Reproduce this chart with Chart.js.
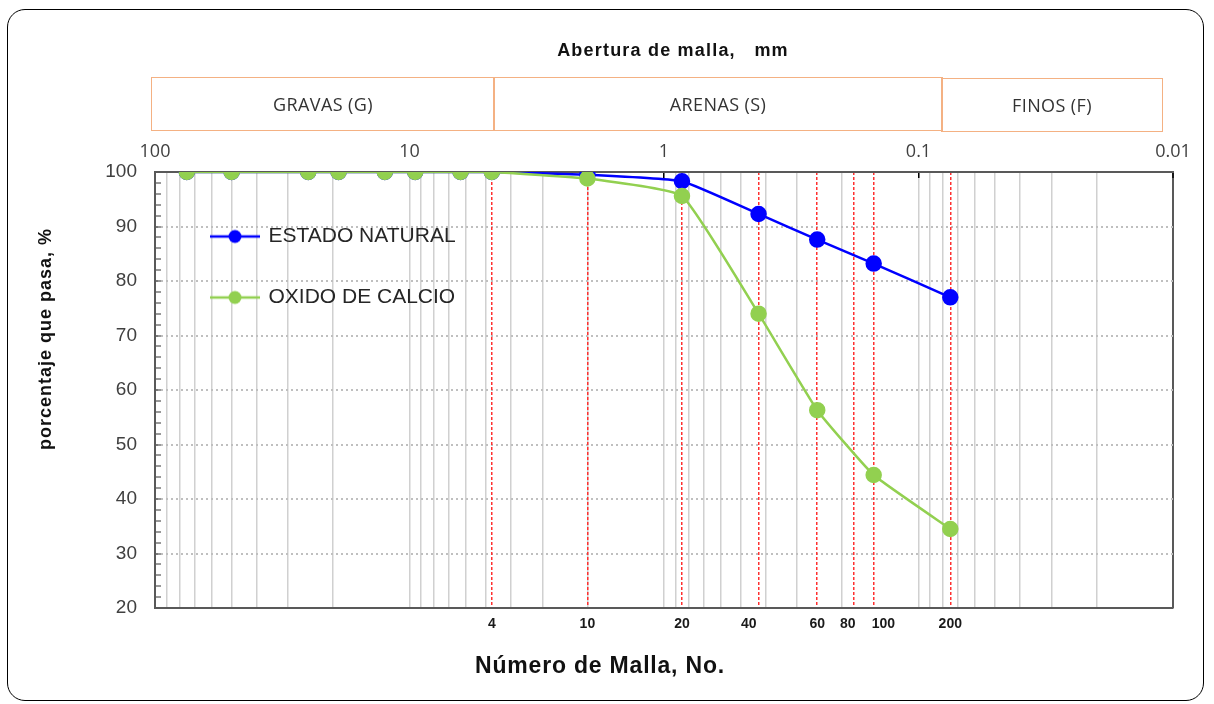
<!DOCTYPE html>
<html>
<head>
<meta charset="utf-8">
<script src="https://cdn.jsdelivr.net/npm/chart.js@4.4.1/dist/chart.umd.min.js"></script>
<style>
  html, body { margin: 0; padding: 0; background: #fff; }
  #wrap { position: relative; width: 1214px; height: 704px; overflow: hidden; background: #fff; }
  #frame { position: absolute; left: 7px; top: 9px; width: 1197px; height: 692px; border: 1.5px solid #000; border-radius: 18px; box-sizing: border-box; }
  canvas { position: absolute; left: 0; top: 0; }
  .box { position: absolute; border: 1.5px solid #f4b183; box-sizing: border-box; font-family: 'Open Sans', sans-serif; font-size: 18px; letter-spacing: 0.4px; color: #333; display: flex; align-items: center; justify-content: center; }
  .title { position: absolute; font-family: 'Liberation Sans', Arial, sans-serif; font-weight: bold; color: #111; white-space: nowrap; transform: translate(-50%, -50%); }
</style>
</head>
<body>
<div id="wrap">
  <canvas id="granChart" width="1214" height="704"></canvas>
  <div id="frame"></div>
  <div class="title" style="left:673px; top:50px; font-size:18px; letter-spacing:1.2px;">Abertura de malla,&nbsp;&nbsp; mm</div>
  <div class="box" style="left:151px; top:77px; width:344px; height:54px;">GRAVAS (G)</div>
  <div class="box" style="left:493px; top:77px; width:450px; height:54px;">ARENAS (S)</div>
  <div class="box" style="left:941px; top:78px; width:222px; height:54px;">FINOS (F)</div>
  <div class="title" style="left:45px; top:339px; font-size:18px; letter-spacing:1px; transform: translate(-50%, -50%) rotate(-90deg);">porcentaje que pasa, %</div>
  <div class="title" style="left:600px; top:665px; font-size:23px; letter-spacing:0.8px;">Número de Malla, No.</div>
</div>
<script>
// abertura de malla (mm) de cada tamiz ensayado
const meshSizesMm = [75, 50, 25, 19, 12.5, 9.5, 6.3, 4.75, 2.0, 0.85, 0.425, 0.25, 0.15, 0.075];
const estadoNatural = [100, 100, 100, 100, 100, 100, 100, 100, 99.5, 98.3, 92.3, 87.6, 83.2, 77.0];
const oxidoDeCalcio = [100, 100, 100, 100, 100, 100, 100, 100, 98.8, 95.6, 74.0, 56.3, 44.4, 34.5];
const seriesNames = ['ESTADO NATURAL', 'OXIDO DE CALCIO'];
const seriesColors = ['#0000ff', '#92d050'];

// tamices marcados abajo (numero de malla)
const sieveSizesMm = [4.75, 2.0, 0.85, 0.425, 0.25, 0.18, 0.15, 0.075];
const sieveLabels = ['4', '10', '20', '40     ', '60', '80   ', '     100', '200'];

// escala de abertura arriba
const apertureTicks = [100, 10, 1, 0.1, 0.01];
const apertureLabels = ['100', '10', '1', '0.1', '0.01'];

// lineas de la rejilla logaritmica
const logGrid = [];
[10, 1, 0.1, 0.01].forEach(d => {
    for (let k = 9; k >= 1; k--) logGrid.push(Number((k * d).toPrecision(6)));
});
logGrid.unshift(100);

function legendMarker(color) {
    const c = document.createElement('canvas');
    c.width = 50;
    c.height = 16;
    const g = c.getContext('2d');
    g.strokeStyle = color;
    g.lineWidth = 2.5;
    g.beginPath();
    g.moveTo(0, 8);
    g.lineTo(50, 8);
    g.stroke();
    g.fillStyle = color;
    g.beginPath();
    g.arc(25, 8, 6.5, 0, Math.PI * 2);
    g.fill();
    return c;
}

const legendShift = {
    id: 'legendShift',
    afterLayout(chart) {
        const lg = chart.legend;
        lg.left = chart.chartArea.left + 17;
        lg.top = chart.chartArea.top + 14;
        lg.bottom = chart.chartArea.bottom;
    }
};

function toPoints(values) {
    return meshSizesMm.map((mm, i) => ({ x: mm, y: values[i] }));
}

const datasets = [estadoNatural, oxidoDeCalcio].map((vals, i) => ({
    label: seriesNames[i],
    data: toPoints(vals),
    borderColor: seriesColors[i],
    backgroundColor: seriesColors[i],
    pointBackgroundColor: seriesColors[i],
    pointBorderColor: seriesColors[i],
    pointRadius: 7,
    pointHoverRadius: 7,
    borderWidth: 2.5,
    tension: 0.12,
    order: 1 - i
}));

Chart.defaults.font.family = "'Liberation Sans', Arial, sans-serif";

new Chart(document.getElementById('granChart'), {
    type: 'line',
    data: { datasets: datasets },
    plugins: [legendShift],
    options: {
        responsive: false,
        animation: false,
        events: [],
        layout: { padding: { left: 0, top: 0, right: 41, bottom: 0 } },
        plugins: {
            tooltip: { enabled: false },
            legend: {
                position: 'chartArea',
                align: 'start',
                labels: {
                    usePointStyle: true,
                    pointStyleWidth: 46,
                    padding: 40,
                    color: '#262626',
                    font: { size: 21 },
                    generateLabels(chart) {
                        const items = Chart.defaults.plugins.legend.labels.generateLabels(chart);
                        items.sort((a, b) => a.datasetIndex - b.datasetIndex);
                        items.forEach(it => { it.pointStyle = legendMarker(seriesColors[it.datasetIndex]); });
                        return items;
                    }
                }
            }
        },
        scales: {
            x: {
                type: 'logarithmic',
                position: 'top',
                reverse: true,
                min: 0.01,
                max: 100,
                afterFit: s => { s.height = 172; },
                afterBuildTicks: s => { s.ticks = logGrid.map(v => ({ value: v })); },
                grid: {
                    z: -3,
                    color: c => (c.tick && (c.tick.value === 0.01 || c.tick.value === 100)) ? '#595959' : '#d0d0d0',
                    lineWidth: c => (c.tick && (c.tick.value === 0.01 || c.tick.value === 100)) ? 2 : 1.5,
                    tickLength: -6,
                    tickWidth: 1.5,
                    tickColor: c => (c.tick && apertureTicks.includes(c.tick.value)) ? '#000' : 'rgba(0,0,0,0)'
                },
                border: { color: '#595959', width: 2 },
                ticks: {
                    autoSkip: false,
                    maxRotation: 0,
                    padding: 15,
                    color: '#404040',
                    font: { family: "'Open Sans', sans-serif", size: 18 },
                    callback: v => {
                        const k = apertureTicks.indexOf(v);
                        return k >= 0 ? apertureLabels[k] : '';
                    }
                }
            },
            x2: {
                type: 'logarithmic',
                position: 'bottom',
                reverse: true,
                min: 0.01,
                max: 100,
                afterFit: s => { s.height = 96; },
                afterBuildTicks: s => { s.ticks = sieveSizesMm.map(v => ({ value: v })); },
                grid: {
                    z: -1,
                    color: '#ff3030',
                    lineWidth: 1.5,
                    drawTicks: false
                },
                border: { color: '#595959', width: 2, dash: [3, 2] },
                ticks: {
                    autoSkip: false,
                    maxRotation: 0,
                    padding: 8,
                    color: '#1a1a1a',
                    font: { size: 14, weight: 'bold' },
                    callback: (v, i) => sieveLabels[i]
                }
            },
            y: {
                min: 20,
                max: 100,
                afterFit: s => { s.width = 155; },
                grid: {
                    z: -2,
                    color: c => (c.tick && c.tick.value % 10 === 0 && c.tick.value > 20 && c.tick.value < 100) ? '#bfbfbf' : 'rgba(0,0,0,0)',
                    lineWidth: 2,
                    tickLength: -6,
                    tickWidth: 1,
                    tickColor: '#333'
                },
                border: { color: '#595959', width: 2, dash: [2, 3] },
                ticks: {
                    stepSize: 2,
                    autoSkip: false,
                    padding: 24,
                    color: '#404040',
                    font: { size: 19 },
                    callback: v => (v % 10 === 0 ? String(v) : '')
                }
            }
        }
    }
});
</script>
</body>
</html>
